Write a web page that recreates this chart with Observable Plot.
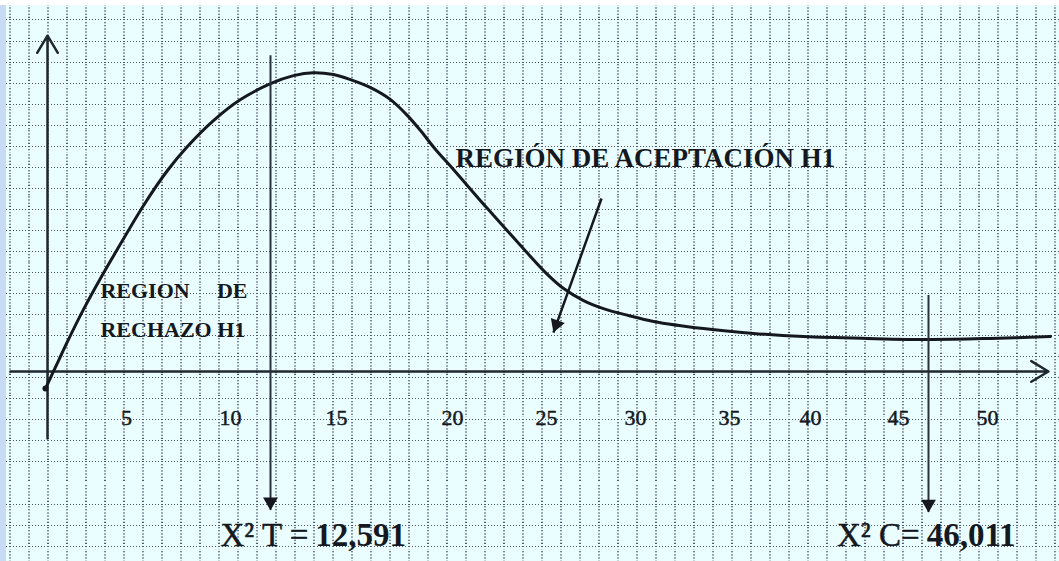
<!DOCTYPE html>
<html>
<head>
<meta charset="utf-8">
<script src="https://cdn.jsdelivr.net/npm/d3@7"></script>
<script src="https://cdn.jsdelivr.net/npm/@observablehq/plot@0.6"></script>
<style>
html, body { margin: 0; padding: 0; background: #ffffff; }
#chart svg {
  display: block;
  background-color: #eafeff !important;
  background-image: url("data:image/svg+xml,%3Csvg xmlns='http://www.w3.org/2000/svg' width='19' height='21' viewBox='0 0 19 21'%3E%3Cpath d='M0.5 0V21' stroke='%2350596a' stroke-width='1' stroke-dasharray='1 2' fill='none'/%3E%3Cpath d='M0 0.5H19' stroke='%2350596a' stroke-width='1' stroke-dasharray='1 2' fill='none'/%3E%3C/svg%3E") !important;
  background-size: 19px 21.05px;
  background-position: 9.5px 19.5px;
  box-shadow: inset 0 5px 0 #ffffff, inset 6px 0 0 #c8daf4;
}
</style>
</head>
<body>
<div id="chart"></div>
<script>
// ---- data ----
// x calibration points (values where the sketch's scale is known)
const xCalibration = [0, 5, 10, 12.591, 15, 20, 25, 30, 35, 40, 45, 46.011, 50];
const tickValues = [5, 10, 15, 20, 25, 30, 35, 40, 45, 50];
const tickLabelRow = -2.2;

// curve of the chi-square sketch (x in chi² units, y in grid squares)
const curveX = [-0.13, 0.70, 1.27, 2.28, 3.35, 4.30, 5.82, 6.97, 7.93, 9.18,
                10.65, 12.59, 13.43, 14.16, 14.89, 15.60, 16.47, 17.33, 18.06, 18.62,
                19.27, 20.05, 21.86, 23.62, 24.95, 25.96, 27.08, 28.20, 29.61, 30.96,
                33.62, 36.48, 39.57, 43.24, 46.15, 50.20, 54.26];
const curveY = [-0.81, 0.52, 1.43, 2.95, 4.42, 5.65, 7.89, 9.55, 10.69, 11.92,
                12.92, 13.68, 14.06, 14.20, 14.11, 13.87, 13.49, 12.92, 12.16, 11.45,
                10.55, 9.60, 7.74, 5.99, 4.70, 3.94, 3.37, 2.99, 2.66, 2.38,
                2.04, 1.81, 1.66, 1.57, 1.52, 1.57, 1.66];

// axes extents
const xAxisSpan = [-2.34, 54.12];
const yAxisSpan = [-3.18, 15.96];

// critical values (vertical arrows)
const criticalValue = [12.591, 46.011];
const criticalTop = [15.01, 3.61];
const criticalTip = [-6.60, -6.70];
const criticalPrefix = ["X\u00B2 T =", "X\u00B2 C="];
const criticalNumber = ["12,591", "46,011"];
const criticalLabelAt = [14.10, 45.83];
const criticalLabelRow = -7.8;

// annotations
const acceptText = ["REGI\u00D3N DE ACEPTACI\u00D3N H1"];
const acceptPos = [[20.16, 10.12]];
const pointerFrom = [28.09, 8.22];
const pointerTo = [25.39, 1.85];
const rejectStartText = ["REGION", "RECHAZO H1"];
const rejectStartPos = [[3.35, 3.85], [3.35, 1.95]];
const rejectEndText = ["DE"];
const rejectEndPos = [[11.10, 3.85]];

// ---- build tables ----
const curve = curveX.map((x, i) => ({x, y: curveY[i]}));
const axes = [
  {x1: xAxisSpan[0], y1: 0, x2: xAxisSpan[1], y2: 0},
  {x1: 0, y1: yAxisSpan[0], x2: 0, y2: yAxisSpan[1]}
];
const markers = criticalValue.map((v, i) => ({
  value: v, top: criticalTop[i], tip: criticalTip[i],
  prefix: criticalPrefix[i], number: criticalNumber[i], at: criticalLabelAt[i]
}));
const pointer = [{x1: pointerFrom[0], y1: pointerFrom[1], x2: pointerTo[0], y2: pointerTo[1]}];
const accept = acceptText.map((t, i) => ({text: t, x: acceptPos[i][0], y: acceptPos[i][1]}));
const rejStart = rejectStartText.map((t, i) => ({text: t, x: rejectStartPos[i][0], y: rejectStartPos[i][1]}));
const rejEnd = rejectEndText.map((t, i) => ({text: t, x: rejectEndPos[i][0], y: rejectEndPos[i][1]}));

const ink = "#15191f";
const serif = "Liberation Serif, Times New Roman, serif";

const chart = Plot.plot({
  width: 1059,
  height: 561,
  margin: 0,
  x: {type: "linear", domain: xCalibration,
      range: [47, 126, 230, 270, 336, 452, 546, 635, 729, 810, 898, 928, 987], axis: null},
  y: {domain: [-9.03, 17.63], axis: null},
  marks: [
    Plot.arrow(axes, {x1: "x1", y1: "y1", x2: "x2", y2: "y2", stroke: "#1f2731",
      strokeWidth: 2.5, headLength: 12, headAngle: 62}),
    Plot.line(curve, {x: "x", y: "y", curve: "catmull-rom", stroke: ink, strokeWidth: 3}),
    Plot.dot(curve.slice(0, 1), {x: "x", y: "y", r: 3, fill: ink}),
    Plot.ruleX(markers, {x: "value", y1: "top", y2: "tip", stroke: "#2a313b", strokeWidth: 2}),
    Plot.dot(markers, {x: "value", y: "tip", symbol: "triangle", rotate: 180, r: 5.5,
      fill: ink, dy: -8.5}),
    Plot.link(pointer, {x1: "x1", y1: "y1", x2: "x2", y2: "y2", stroke: ink, strokeWidth: 2.5}),
    Plot.dot(pointer, {x: "x2", y: "y2", symbol: "triangle", rotate: 200, r: 5.5,
      fill: ink, dx: 2.9, dy: -8.0}),
    Plot.text(tickValues, {x: d => d, y: () => tickLabelRow, text: d => String(d),
      fontSize: 22, fontFamily: serif, fill: ink, stroke: ink, strokeWidth: 0.5}),
    Plot.text(accept, {x: "x", y: "y", text: "text", textAnchor: "start",
      fontSize: 27, fontWeight: "bold", fontFamily: serif, fill: ink}),
    Plot.text(rejStart, {x: "x", y: "y", text: "text", textAnchor: "start",
      fontSize: 22, fontWeight: "bold", fontFamily: serif, fill: ink}),
    Plot.text(rejEnd, {x: "x", y: "y", text: "text", textAnchor: "end",
      fontSize: 22, fontWeight: "bold", fontFamily: serif, fill: ink}),
    Plot.text(markers, {x: "at", y: () => criticalLabelRow, text: "prefix", textAnchor: "end",
      dx: -3.5, fontSize: 33, fontFamily: serif, fill: ink, stroke: ink, strokeWidth: 0.5}),
    Plot.text(markers, {x: "at", y: () => criticalLabelRow, text: "number", textAnchor: "start",
      dx: 3.5, fontSize: 33, fontWeight: "bold", fontFamily: serif, fill: ink})
  ]
});
document.getElementById("chart").appendChild(chart);
</script>
</body>
</html>
